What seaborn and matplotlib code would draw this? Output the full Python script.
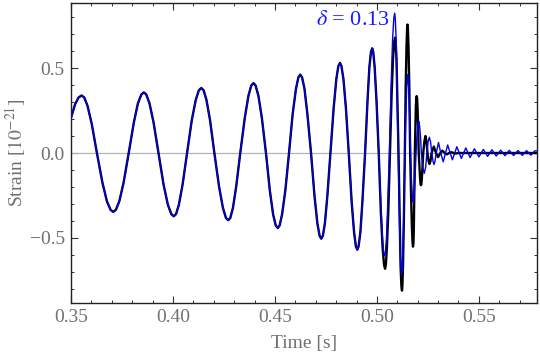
import numpy as np
import pandas as pd
import matplotlib
matplotlib.use('Agg')
import matplotlib.pyplot as plt
import seaborn as sns
from matplotlib.ticker import MultipleLocator

# inspiral part, the two curves lie on top of each other here
t_insp = [0.3500, 0.3520, 0.3537, 0.3552,
          0.3565, 0.3581, 0.3602, 0.3627, 0.3654, 0.3676, 0.3694, 0.3707,
          0.3720, 0.3737, 0.3758, 0.3783, 0.3808, 0.3828, 0.3845, 0.3857,
          0.3869, 0.3885, 0.3905, 0.3929, 0.3954, 0.3975, 0.3992, 0.4004,
          0.4015, 0.4029, 0.4047, 0.4069, 0.4092, 0.4112, 0.4127, 0.4139,
          0.4150, 0.4164, 0.4182, 0.4203, 0.4226, 0.4245, 0.4260, 0.4271,
          0.4281, 0.4294, 0.4310, 0.4330, 0.4352, 0.4370, 0.4384, 0.4395,
          0.4405, 0.4419, 0.4436, 0.4456, 0.4475, 0.4491, 0.4504, 0.4514,
          0.4523, 0.4535, 0.4551, 0.4569, 0.4587, 0.4603, 0.4615, 0.4624,
          0.4633, 0.4645, 0.4659, 0.4677, 0.4694, 0.4708, 0.4719, 0.4727,
          0.4735, 0.4745, 0.4757, 0.4772, 0.4788, 0.4801, 0.4811, 0.4819,
          0.4826, 0.4836, 0.4848, 0.4862, 0.4876, 0.4888, 0.4897, 0.4904,
          0.4910, 0.4919, 0.4929, 0.4942, 0.4954, 0.4963, 0.4971, 0.4977,
          0.4982, 0.4989, 0.4998, 0.5009]
h_insp = [0.207, 0.287, 0.327, 0.339,
          0.327, 0.278, 0.170, 0.0, -0.174, -0.284, -0.335, -0.347,
          -0.335, -0.284, -0.174, 0.0, 0.179, 0.292, 0.345, 0.357,
          0.345, 0.292, 0.179, 0.0, -0.187, -0.305, -0.360, -0.373,
          -0.360, -0.305, -0.187, 0.0, 0.192, 0.314, 0.370, 0.383,
          0.370, 0.314, 0.192, 0.0, -0.198, -0.324, -0.383, -0.396,
          -0.383, -0.324, -0.198, 0.0, 0.206, 0.337, 0.398, 0.412,
          0.398, 0.337, 0.206, 0.0, -0.221, -0.362, -0.427, -0.442,
          -0.427, -0.362, -0.221, 0.0, 0.231, 0.378, 0.446, 0.462,
          0.446, 0.378, 0.231, 0.0, -0.253, -0.414, -0.488, -0.505,
          -0.488, -0.414, -0.253, 0.0, 0.266, 0.435, 0.513, 0.531,
          0.513, 0.435, 0.266, 0.0, -0.285, -0.467, -0.551, -0.570,
          -0.551, -0.467, -0.285, 0.0, 0.309, 0.505, 0.596, 0.617,
          0.596, 0.505, 0.309, 0.0]

# merger + ringdown, black curve
t_nr = [0.5019, 0.5028, 0.5035, 0.5040, 0.5044, 0.5049, 0.5056, 0.5064,
        0.5072, 0.5079, 0.5085, 0.5089, 0.5092, 0.5096, 0.5100, 0.5106,
        0.5112, 0.5116, 0.5120, 0.5123, 0.5125, 0.5128, 0.5132, 0.5137,
        0.5141, 0.5145, 0.5148, 0.5150, 0.5152, 0.5155, 0.5159, 0.5163,
        0.5168, 0.5172, 0.5175, 0.5177, 0.5179, 0.5181, 0.5183, 0.5186,
        0.5189, 0.5191, 0.5193, 0.5195, 0.5197, 0.5199, 0.5202, 0.5205,
        0.5209, 0.5212, 0.5214, 0.5216, 0.5218, 0.5220, 0.5223, 0.5227,
        0.5233, 0.5238, 0.5243, 0.5248, 0.5253, 0.5258, 0.5263, 0.5268,
        0.5279, 0.5290, 0.5300, 0.5311, 0.5322, 0.5332, 0.5343, 0.5354,
        0.5365, 0.5376, 0.5386, 0.5400, 0.5790]
h_nr = [-0.341, -0.559, -0.659, -0.682, -0.659, -0.559, -0.341, 0.0,
        0.340, 0.557, 0.657, 0.680, 0.657, 0.557, 0.340, 0.0,
        -0.406, -0.664, -0.783, -0.811, -0.783, -0.664, -0.406, 0.0,
        0.379, 0.620, 0.731, 0.757, 0.731, 0.620, 0.379, 0.0,
        -0.276, -0.452, -0.533, -0.552, -0.533, -0.452, -0.276, 0.0,
        0.168, 0.274, 0.324, 0.335, 0.324, 0.274, 0.168, 0.0,
        -0.095, -0.156, -0.184, -0.190, -0.184, -0.156, -0.095, 0.0,
        0.070, 0.100, 0.070, 0.0, -0.046, -0.065, -0.046, 0.0,
        0.038, 0.0, -0.024, 0.0, 0.014, 0.0, -0.008, 0.0,
        0.005, 0.0, -0.003, 0.0, 0.0]

# merger + ringdown, blue curve (delta = 0.13)
t_model = [0.5019, 0.5027, 0.5033, 0.5038, 0.5042, 0.5047, 0.5053, 0.5061,
           0.5070, 0.5077, 0.5083, 0.5087, 0.5090, 0.5094, 0.5098, 0.5104,
           0.5110, 0.5114, 0.5118, 0.5121, 0.5124, 0.5127, 0.5132, 0.5137,
           0.5142, 0.5146, 0.5149, 0.5151, 0.5153, 0.5156, 0.5160, 0.5165,
           0.5169, 0.5173, 0.5176, 0.5178, 0.5180, 0.5183, 0.5187, 0.5192,
           0.5196, 0.5200, 0.5203, 0.5205, 0.5207, 0.5210, 0.5214, 0.5218,
           0.5225, 0.5232, 0.5239, 0.5245, 0.5251, 0.5257, 0.5263, 0.5269,
           0.5275, 0.5280, 0.5285, 0.5291, 0.5302, 0.5313,
           0.5325, 0.5347, 0.5370, 0.5392, 0.5414, 0.5436, 0.5457, 0.5478,
           0.5500, 0.5522, 0.5543, 0.5564, 0.5585, 0.5607, 0.5628, 0.5649,
           0.5670, 0.5692, 0.5713, 0.5734, 0.5755, 0.5775, 0.5790]
h_model = [-0.303, -0.495, -0.584, -0.605, -0.584, -0.495, -0.303, 0.0,
           0.412, 0.675, 0.796, 0.824, 0.796, 0.675, 0.412, 0.0,
           -0.356, -0.583, -0.688, -0.712, -0.688, -0.583, -0.356, 0.0,
           0.231, 0.378, 0.446, 0.462, 0.446, 0.378, 0.231, 0.0,
           -0.145, -0.238, -0.280, -0.290, -0.280, -0.238, -0.145, 0.0,
           0.094, 0.153, 0.181, 0.187, 0.181, 0.153, 0.094, 0.0,
           -0.085, -0.120, -0.085, 0.0, 0.066, 0.093, 0.066, 0.0,
           -0.048, -0.068, -0.048, 0.0, 0.062, 0.0,
           -0.052, 0.047, -0.040, 0.037, -0.032, 0.030, -0.027, 0.025,
           -0.023, 0.021, -0.020, 0.019, -0.018, 0.017, -0.016, 0.016,
           -0.015, 0.015, -0.014, 0.014, -0.013, 0.013, 0.012]

delta_label = r'$\delta$ = 0.13'

nr = pd.DataFrame({'t': t_insp + t_nr, 'h': h_insp + h_nr})
model = pd.DataFrame({'t': t_insp + t_model, 'h': h_insp + h_model})

sns.set_style('ticks')
plt.rcParams['font.family'] = ['Liberation Serif', 'DejaVu Serif']
plt.rcParams['mathtext.fontset'] = 'stix'

fig = plt.figure(figsize=(5.4, 3.52), dpi=100)
ax = fig.add_axes([71 / 540, 49 / 352, 466 / 540, 300 / 352])

ax.axhline(0, color='#b4b4b4', lw=0.9, zorder=1)
sns.lineplot(data=nr, x='t', y='h', sort=False, estimator=None,
             color='black', lw=1.7, ax=ax, zorder=2)
sns.lineplot(data=model, x='t', y='h', sort=False, estimator=None,
             color='#0000ee', lw=1.0, ax=ax, zorder=3)

ax.text(0.5064, 0.78, delta_label, color='#1a1aff', ha='right', va='center', fontsize=16)

ax.set_xlim(0.35, 0.5785)
ax.set_ylim(-0.884, 0.884)
ax.xaxis.set_major_locator(MultipleLocator(0.05))
ax.xaxis.set_minor_locator(MultipleLocator(0.01))
ax.yaxis.set_major_locator(MultipleLocator(0.5))
ax.yaxis.set_minor_locator(MultipleLocator(0.1))

ax.tick_params(which='both', direction='in', top=True, right=True, color='#333333',
               labelcolor='#707070', labelsize=14)
ax.tick_params(which='major', length=5, width=0.8, pad=4.5)
ax.tick_params(which='minor', length=2.5, width=0.7)
for s in ax.spines.values():
    s.set_linewidth(1.0)
    s.set_color('#222222')

ax.set_xlabel('Time [s]', color='#707070', fontsize=14, labelpad=6)
ax.set_ylabel(r'Strain [$10^{-21}$]', color='#707070', fontsize=14, labelpad=1)

fig.savefig('out.png', dpi=100)
